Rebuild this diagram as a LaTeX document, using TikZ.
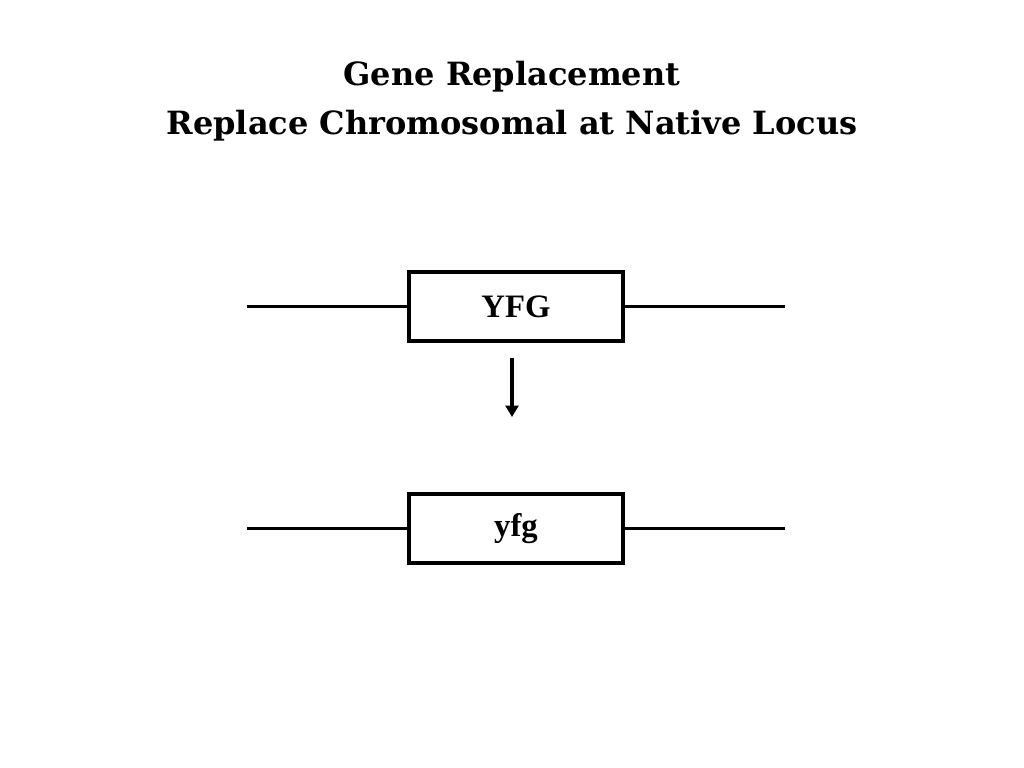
\documentclass[tikz,border=0pt]{standalone}
\usepackage{fontspec}
\setmainfont{Liberation Serif}
\newfontfamily\titlefont{DejaVu Serif}
\usetikzlibrary{positioning,arrows.meta}

\tikzset{
	genebox/.style={draw, line width=2.2pt, minimum width=150.5pt, minimum height=48.5pt, inner sep=0pt, font=\bfseries\fontsize{23}{28}\selectfont},
	dnaline/.style={line width=2.2pt},
	turnarrow/.style={line width=2.2pt, -{Triangle[width=9pt, length=8pt]}}
}

\begin{document}
\begin{tikzpicture}[x=0.7031pt, y=-0.7031pt]
	\useasboundingbox (0,0) rectangle (1024,768);
	\node[font=\titlefont\bfseries\fontsize{22.5}{34.5}\selectfont, align=center] (title) at (512,101) {Gene Replacement\\Replace Chromosomal at Native Locus};
	
	\node[genebox] (wild) at (516,306.5) {YFG};
	\node[genebox] (mutant) at (516,528.5) {yfg};
	
	\coordinate (wildL) at (247,306.5);
	\coordinate (wildR) at (785,306.5);
	\coordinate (mutantL) at (247,528.5);
	\coordinate (mutantR) at (785,528.5);
	\draw[dnaline] (wildL) -- (wild.west);
	\draw[dnaline] (wild.east) -- (wildR);
	\draw[dnaline] (mutantL) -- (mutant.west);
	\draw[dnaline] (mutant.east) -- (mutantR);
	
	\coordinate (arrowTop) at (512,358);
	\coordinate (arrowEnd) at (512,417);
	\draw[turnarrow] (arrowTop) -- (arrowEnd);
\end{tikzpicture}
\end{document}
